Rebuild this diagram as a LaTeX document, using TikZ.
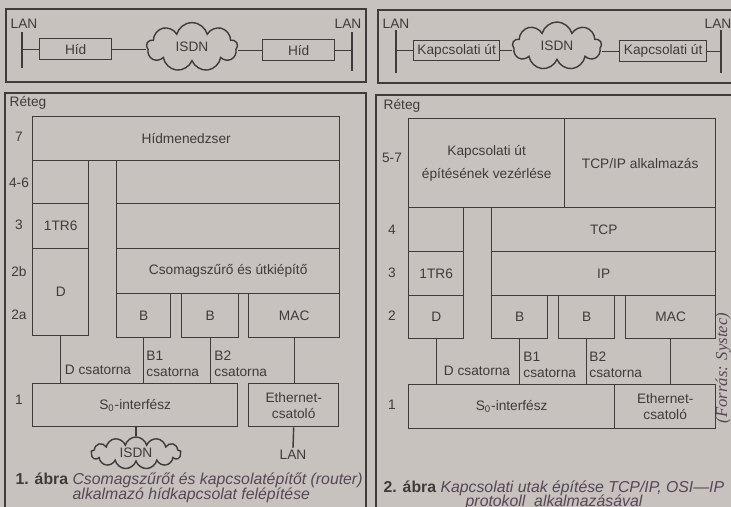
\documentclass[tikz,border=0pt]{standalone}
\usepackage{fontspec}
\setmainfont{Liberation Sans}
\newfontfamily\srcfont{Liberation Serif}
\usetikzlibrary{shapes.symbols}

\definecolor{paper}{RGB}{199,194,189}
\definecolor{ink}{RGB}{66,58,58}
\definecolor{capink}{RGB}{88,70,88}

\begin{document}
\begin{tikzpicture}[
        x=0.02cm, y=-0.02cm,
        font=\fontsize{7.8}{9}\selectfont,
        color=ink, line width=0.8pt,
        box/.style 2 args={draw=ink, anchor=north west, inner sep=0pt,
                           align=center, minimum width=#1*0.02cm,
                           minimum height=#2*0.02cm},
        net/.style 2 args={cloud, cloud puffs=9, aspect=2.5, draw=ink,
                           fill=paper, inner sep=0pt,
                           minimum width=#1*0.02cm, minimum height=#2*0.02cm},
        lbl/.style={inner sep=1pt},
        chan/.style={inner sep=1pt, anchor=west, align=left},
        panel/.style={draw=ink, line width=0.9pt},
        captxt/.style={anchor=west, inner sep=0pt, text=capink,
                       font=\fontsize{9}{10}\selectfont\itshape},
      ]
        \useasboundingbox (0,0) rectangle (731,507);
        \fill[paper] (0,0) rectangle (731,507);

        % top left: bridge over ISDN
        \draw[panel] (6,9) rectangle (366,82);
        \coordinate (lanAt) at (22,32); \coordinate (lanAb) at (22,68);
        \coordinate (lanBt) at (352,32); \coordinate (lanBb) at (352,71);
        \draw (lanAt) -- (lanAb);
        \draw (lanBt) -- (lanBb);
        \node[lbl] (lanA) at (24,24) {LAN};
        \node[lbl] (lanB) at (348,24) {LAN};
        \node[box={72}{21}] (hidA) at (39,38) {Híd};
        \node[box={72}{21}] (hidB) at (262,39) {Híd};
        \node[net={91}{49}] (isdnA) at (192,47) {ISDN};
        \draw (hidA.west) -- (hidA.west -| lanAt);
        \draw (hidA.east) -- (hidA.east -| isdnA.west);
        \draw (hidB.west) -- (hidB.west -| isdnA.east);
        \draw (hidB.east) -- (hidB.east -| lanBt);

        % top right: routers over ISDN
        \draw[panel] (378,10) rectangle (745,83);
        \coordinate (lanDt) at (396,30); \coordinate (lanDb) at (396,73);
        \coordinate (lanEt) at (721,30); \coordinate (lanEb) at (721,73);
        \draw (lanDt) -- (lanDb);
        \draw (lanEt) -- (lanEb);
        \node[lbl] (lanD) at (396,24) {LAN};
        \node[lbl] (lanE) at (718,24) {LAN};
        \node[box={86}{20}] (kapA) at (413,40) {Kapcsolati út};
        \node[box={87}{21}] (kapB) at (619,40) {Kapcsolati út};
        \node[net={89}{48}] (isdnC) at (557,46) {ISDN};
        \draw (kapA.west) -- (kapA.west -| lanDt);
        \draw (kapA.east) -- (kapA.east -| isdnC.west);
        \draw (kapB.west) -- (kapB.west -| isdnC.east);
        \draw (kapB.east) -- (kapB.east -| lanEt);

        % lower left: bridge layers
        \draw[panel] (5,93) rectangle (366,520);
        \node[lbl] (retegL) at (28,103) {Réteg};
        \foreach \y/\t [count=\i] in {137/7,183/4-6,225/3,272/2b,315/2a,400/1}
          \node[lbl] (rowL\i) at (19,\y) {\t};
        \node[box={307}{44}] (hidm) at (32,116) {Hídmenedzser};
        \node[box={56}{43}] (l46a) at (32,160) {};
        \node[box={223}{43}] (l46b) at (116,160) {};
        \node[box={56}{45}] (trL) at (32,203) {1TR6};
        \node[box={223}{45}] (l3b) at (116,203) {};
        \node[box={56}{87}] (dL) at (32,248) {D};
        \node[box={223}{45}] (csom) at (116,248) {Csomagszűrő és útkiépítő};
        \node[box={54}{44}] (b1L) at (116,293) {B};
        \node[box={57}{44}] (b2L) at (181,293) {B};
        \node[box={91}{44}] (macL) at (248,293) {MAC};
        \node[box={205}{43}] (s0L) at (32,383) {S\textsubscript{0}-interfész};
        \node[box={90}{43}] (ethL) at (248,383) {Ethernet-\\csatoló};
        \node[net={90}{32}, cloud puffs=13, aspect=2.8] (isdnB) at (136,453) {ISDN};
        \node[lbl] (lanC) at (293,455) {LAN};
        \draw (dL.south) -- (dL.south |- s0L.north);
        \draw (b1L.south) -- (b1L.south |- s0L.north);
        \draw (b2L.south) -- (b2L.south |- s0L.north);
        \draw (macL.south) -- (macL.south |- ethL.north);
        \draw (isdnB.north) -- (isdnB.north |- s0L.south);
        \draw (ethL.south) -- (lanC.north);
        \node[lbl] (dchL) at (98,370) {D csatorna};
        \node[chan] (b1chL) at (144,364) {B1\\csatorna};
        \node[chan] (b2chL) at (212,364) {B2\\csatorna};
        \node[captxt] (cap1) at (15,480)
          {{\color{ink}\bfseries\upshape 1. ábra}\ Csomagszűrőt és kapcsolatépítőt (router)};
        \node[captxt] (cap1b) at (72,495) {alkalmazó hídkapcsolat felépítése};

        % lower right: router layers
        \draw[panel] (376,95) rectangle (745,520);
        \node[lbl] (retegR) at (402,106) {Réteg};
        \foreach \y/\t [count=\i] in {158/5-7,230/4,273/3,316/2,405/1}
          \node[lbl] (rowR\i) at (392,\y) {\t};
        \node[box={156}{89}, font=\fontsize{7.8}{13}\selectfont] (ctrl) at (408,118)
          {Kapcsolati út\\építésének vezérlése};
        \node[box={151}{89}] (tcpapp) at (564,118) {TCP/IP alkalmazás};
        \node[box={55}{44}] (r4a) at (408,207) {};
        \node[box={224}{44}] (tcp) at (491,207) {TCP};
        \node[box={55}{44}] (trR) at (408,251) {1TR6};
        \node[box={224}{44}] (ip) at (491,251) {IP};
        \node[box={55}{43}] (dR) at (408,295) {D};
        \node[box={56}{43}] (b1R) at (491,295) {B};
        \node[box={56}{43}] (b2R) at (558,295) {B};
        \node[box={90}{43}] (macR) at (625,295) {MAC};
        \node[box={206}{44}] (s0R) at (408,384) {S\textsubscript{0}-interfész};
        \node[box={101}{44}] (ethR) at (614,384) {Ethernet-\\csatoló};
        \draw (dR.south) -- (dR.south |- s0R.north);
        \draw (b1R.south) -- (b1R.south |- s0R.north);
        \draw (b2R.south) -- (b2R.south |- s0R.north);
        \draw (macR.south) -- (macR.south |- ethR.north);
        \node[lbl] (dchR) at (477,371) {D csatorna};
        \node[chan] (b1chR) at (521,365) {B1\\csatorna};
        \node[chan] (b2chR) at (587,365) {B2\\csatorna};
        \node[rotate=90, text=capink, inner sep=0pt,
              font=\srcfont\fontsize{9.5}{11}\selectfont\itshape] (src) at (723,368)
          {(Forrás: Systec)};
        \node[captxt] (cap2) at (383,488)
          {{\color{ink}\bfseries\upshape 2. ábra}\ Kapcsolati utak építése TCP/IP, OSI---IP};
        \node[captxt] (cap2b) at (465,502) {protokoll\ \ alkalmazásával};
      \end{tikzpicture}
\end{document}
